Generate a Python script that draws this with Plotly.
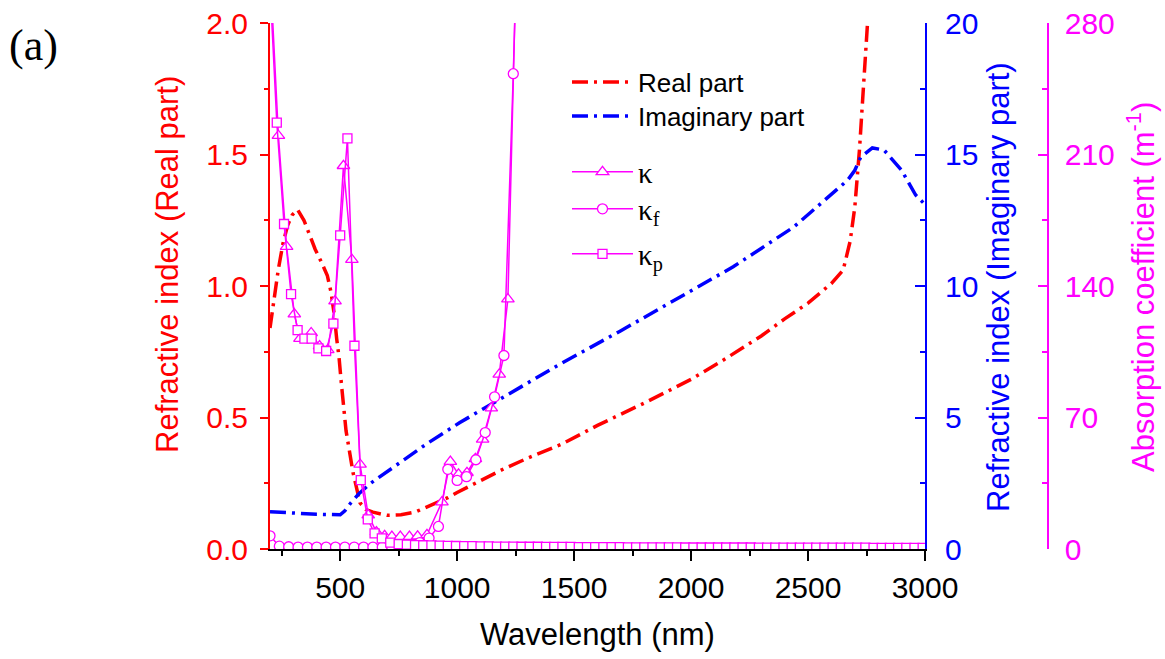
import plotly.graph_objects as go

# ---------------- data ----------------
real_wl = [200, 210, 220, 235, 255, 275, 295, 318, 345, 370, 393, 420, 445, 460, 475, 485, 495, 505,
           525, 555, 585, 610, 640, 700, 760, 820, 900, 960, 1000, 1100, 1200, 1300, 1450, 1600, 1800,
           2000, 2150, 2300, 2400, 2500, 2600, 2650, 2680, 2700, 2720, 2740, 2755, 2765]
real_n = [0.84, 0.90, 0.98, 1.06, 1.16, 1.23, 1.27, 1.29, 1.25, 1.19, 1.14, 1.09, 1.04, 0.98, 0.89, 0.80,
          0.73, 0.63, 0.45, 0.29, 0.175, 0.15, 0.14, 0.128, 0.13, 0.14, 0.17, 0.195, 0.215, 0.26, 0.305,
          0.345, 0.40, 0.47, 0.555, 0.645, 0.725, 0.81, 0.875, 0.935, 1.01, 1.06, 1.17, 1.30, 1.52, 1.80,
          2.0, 2.15]

imag_wl = [200, 300, 400, 500, 520, 545, 580, 630, 730, 870, 1010, 1230, 1440, 1700, 1930, 2180, 2440,
           2670, 2700, 2725, 2775, 2825, 2900, 2960, 3000]
imag_k = [1.42, 1.36, 1.32, 1.30, 1.45, 1.75, 2.1, 2.5, 3.13, 4.0, 4.8, 5.95, 7.03, 8.3, 9.47, 10.73,
          12.25, 14.03, 14.4, 14.9, 15.25, 15.17, 14.4, 13.46, 13.1]

kappa_wl = [200, 236, 271, 304, 328, 376, 412, 447, 478, 514, 550, 585, 620, 655, 690, 721, 757, 796,
            831, 871, 935, 971, 1006, 1042, 1078, 1109, 1146, 1180, 1217, 1250]
kappa = [310, 220, 161, 125, 112, 115, 108, 106, 132, 204, 154, 45, 18, 9, 7, 6.6, 6.6, 6.6, 6.8, 7.5,
         25, 46.5, 39.7, 40.6, 48, 58.4, 75, 93, 133, 300]

kappa_f_wl = [200, 240, 280, 320, 360, 400, 440, 480, 520, 560, 600, 640, 680, 720, 760, 800, 840, 880,
              920, 960, 1000, 1040, 1080, 1120, 1160, 1200, 1240, 1280]
kappa_f = [7, 1.5, 1.2, 1.0, 1.0, 1.0, 1.0, 1.0, 1.0, 1.0, 1.0, 1.0, 1.0, 1.2, 1.5, 2.0, 3.4, 5.8, 12,
           42.4, 36.5, 38.5, 47.5, 62, 81, 103, 253, 430]

kappa_p_wl = [200, 229, 260, 290, 318, 347, 378, 407, 440, 471, 500, 531, 561, 588, 618, 647, 678, 714,
              750, 785, 820, 855, 890, 925, 960, 995, 1030, 1065, 1100, 1135, 1170, 1205, 1240, 1275,
              1310, 1345, 1380, 1415, 1450, 1485, 1520, 1555, 1590, 1625, 1660, 1695, 1730, 1765, 1800,
              1835, 1870, 1905, 1940, 1975, 2010, 2045, 2080, 2115, 2150, 2185, 2220, 2255, 2290, 2325,
              2360, 2395, 2430, 2465, 2500, 2535, 2570, 2605, 2640, 2675, 2710, 2745, 2780, 2815, 2850,
              2885, 2920, 2955, 2990]
kappa_p = [300, 227, 173, 135.7, 116.5, 112, 112, 106.8, 105.4, 120, 167, 218.6, 108.2, 36.7, 15.8, 8.3,
           5.7, 3.4, 2.6, 2.3, 2.1, 2.0, 1.9, 1.8, 1.7, 1.6, 1.5, 1.5, 1.4, 1.4, 1.3, 1.3, 1.3, 1.2,
           1.2, 1.2, 1.1, 1.1, 1.1, 1.1, 1.0, 1.0, 1.0, 1.0, 1.0, 1.0, 0.9, 0.9, 0.9, 0.9, 0.9, 0.9,
           0.9, 0.8, 0.8, 0.8, 0.8, 0.8, 0.8, 0.8, 0.8, 0.8, 0.7, 0.7, 0.7, 0.7, 0.7, 0.7, 0.7, 0.7,
           0.7, 0.7, 0.7, 0.7, 0.7, 0.7, 0.6, 0.6, 0.6, 0.6, 0.6, 0.6, 0.6]

x_ticks = [500, 1000, 1500, 2000, 2500, 3000]
y1_ticks = [0.0, 0.5, 1.0, 1.5, 2.0]
y2_ticks = [0, 5, 10, 15, 20]
y3_ticks = [0, 70, 140, 210, 280]

# ---------------- style ----------------
RED = "#FF0000"
BLUE = "#0000FF"
MAG = "#FF00FF"
SANS = "Arial, Liberation Sans, Helvetica, sans-serif"
SERIF = "Times New Roman, Liberation Serif, DejaVu Serif, serif"
DASH = "16px,6px,3px,6px"

# plot area in pixels
W, H = 1165, 659
L, R_AX, R_MAG, T, B = 270, 925, 1048, 23, 549
xdom_end = (R_AX - L) / (R_MAG - L)


def px_x(p):
    return (p - L) / (R_MAG - L)


def px_y(p):
    return (B - p) / (B - T)


fig = go.Figure()

fig.add_trace(go.Scatter(x=real_wl, y=real_n, mode="lines", name="Real part",
                         line=dict(color=RED, width=3.5, dash=DASH), yaxis="y", legend="legend"))
fig.add_trace(go.Scatter(x=imag_wl, y=imag_k, mode="lines", name="Imaginary part",
                         line=dict(color=BLUE, width=3.5, dash=DASH), yaxis="y2", legend="legend2"))

mk = dict(color="white", line=dict(color=MAG, width=1.3))
fig.add_trace(go.Scatter(x=kappa_wl, y=kappa, mode="lines+markers", name="κ",
                         line=dict(color=MAG, width=1.5),
                         marker=dict(symbol="triangle-up", size=11, **mk), yaxis="y3", legend="legend3"))
fig.add_trace(go.Scatter(x=kappa_f_wl, y=kappa_f, mode="lines+markers", name="κ<sub>f</sub>",
                         line=dict(color=MAG, width=1.5),
                         marker=dict(symbol="circle", size=10, **mk), yaxis="y3", legend="legend4"))
fig.add_trace(go.Scatter(x=kappa_p_wl, y=kappa_p, mode="lines+markers", name="κ<sub>p</sub>",
                         line=dict(color=MAG, width=1.5),
                         marker=dict(symbol="square", size=9, **mk), yaxis="y3", legend="legend5"))

tickfont_size = 30

fig.update_layout(
    width=W, height=H,
    margin=dict(l=L, r=W - R_MAG, t=T, b=H - B, pad=0),
    paper_bgcolor="white", plot_bgcolor="white",
    template="none",
    font=dict(family=SANS, size=26, color="black"),
    xaxis=dict(domain=[0, xdom_end], range=[200, 3000], tickvals=x_ticks,
               ticktext=[str(v) for v in x_ticks],
               showline=True, linecolor="black", linewidth=2, mirror=False,
               ticks="outside", ticklen=10, tickwidth=2, tickcolor="black",
               minor=dict(dtick=250, tick0=0, ticks="outside", ticklen=5, tickwidth=2, tickcolor="black"),
               showgrid=False, zeroline=False, tickfont=dict(size=tickfont_size, color="black"),
               ticklabelstandoff=1),
    xaxis2=dict(domain=[0, xdom_end], matches="x", overlaying="x", side="top", anchor="y",
                range=[200, 3000], tickvals=x_ticks, showticklabels=False,
                showline=True, linecolor="black", linewidth=2,
                ticks="inside", ticklen=10, tickwidth=2, tickcolor="black",
                minor=dict(dtick=250, tick0=0, ticks="inside", ticklen=5, tickwidth=2, tickcolor="black"),
                showgrid=False, zeroline=False),
    yaxis=dict(range=[0, 2], tickvals=y1_ticks, ticktext=["%.1f" % v for v in y1_ticks],
               showline=True, linecolor=RED, linewidth=2,
               ticks="outside", ticklen=8, tickwidth=2, tickcolor=RED,
               minor=dict(dtick=0.25, tick0=0, ticks="outside", ticklen=4, tickwidth=2, tickcolor=RED),
               showgrid=False, zeroline=False, tickfont=dict(size=tickfont_size, color=RED),
               ticklabelstandoff=6),
    yaxis2=dict(range=[0, 20], tickvals=y2_ticks, overlaying="y", side="right", anchor="x",
                showline=True, linecolor=BLUE, linewidth=2,
                ticks="inside", ticklen=10, tickwidth=2, tickcolor=BLUE,
                minor=dict(dtick=2.5, tick0=0, ticks="inside", ticklen=5, tickwidth=2, tickcolor=BLUE),
                showgrid=False, zeroline=False, tickfont=dict(size=tickfont_size, color=BLUE),
                ticklabelstandoff=12),
    yaxis3=dict(range=[0, 280], tickvals=y3_ticks, overlaying="y", side="right", anchor="free",
                position=1.0,
                showline=True, linecolor=MAG, linewidth=1.5,
                ticks="inside", ticklen=9, tickwidth=1.5, tickcolor=MAG,
                minor=dict(dtick=35, tick0=0, ticks="inside", ticklen=5, tickwidth=1.5, tickcolor=MAG),
                showgrid=False, zeroline=False, tickfont=dict(size=tickfont_size, color=MAG),
                ticklabelstandoff=10),
    showlegend=True,
)

leg_common = dict(xanchor="left", yanchor="middle", bgcolor="rgba(0,0,0,0)", borderwidth=0,
                  itemwidth=61, tracegroupgap=0)
leg_x = px_x(567)
fig.update_layout(
    legend=dict(x=leg_x, y=px_y(82), font=dict(family=SANS, size=26, color="black"), **leg_common),
    legend2=dict(x=leg_x, y=px_y(116), font=dict(family=SANS, size=26, color="black"), **leg_common),
    legend3=dict(x=leg_x, y=px_y(172), font=dict(family=SERIF, size=29, color="black"), **leg_common),
    legend4=dict(x=leg_x, y=px_y(209), font=dict(family=SERIF, size=29, color="black"), **leg_common),
    legend5=dict(x=leg_x, y=px_y(254), font=dict(family=SERIF, size=29, color="black"), **leg_common),
)

ann = [
    dict(text="Refractive index (Real part)", x=px_x(167), y=px_y(265), textangle=-90,
         font=dict(family=SANS, size=31, color=RED)),
    dict(text="Refractive index (Imaginary part)", x=px_x(998), y=px_y(287), textangle=-90,
         font=dict(family=SANS, size=31, color=BLUE)),
    dict(text="Absorption coefficient (m<sup>-1</sup>)", x=px_x(1141), y=px_y(287), textangle=-90,
         font=dict(family=SANS, size=31, color=MAG)),
    dict(text="Wavelength (nm)", x=px_x(597), y=px_y(634), textangle=0,
         font=dict(family=SANS, size=31, color="black")),
    dict(text="(a)", x=px_x(33), y=px_y(46), textangle=0,
         font=dict(family=SERIF, size=44, color="black")),
]
for a in ann:
    a.update(xref="paper", yref="paper", xanchor="center", yanchor="middle", showarrow=False)
fig.update_layout(annotations=ann)

fig.write_html("out.html")
